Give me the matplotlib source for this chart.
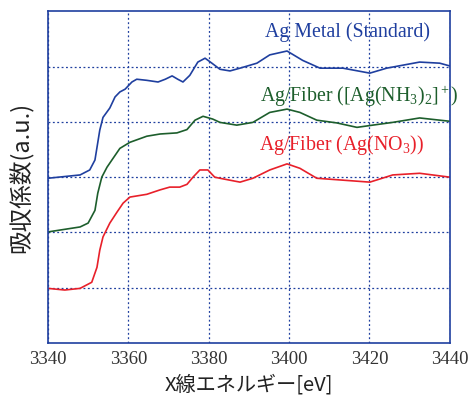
import matplotlib
matplotlib.use("Agg")
from matplotlib import pyplot as plt

# Ag K-edge XANES spectra (offset vertically)
metal_e = [3340, 3348.0, 3350.4, 3351.7, 3352.9, 3353.7, 3355.4, 3356.7, 3357.9, 3359.2,
           3360.9, 3362.1, 3364.6, 3367.4, 3369.2, 3370.9, 3372.3, 3373.6, 3375.3,
           3377.3, 3379.1, 3380.8, 3382.8, 3385.3, 3387.8, 3392.0, 3395.2, 3399.5,
           3403.4, 3407.7, 3413.4, 3420.1, 3424.3, 3432.5, 3437.5, 3440]
metal_mu = [2.98, 3.04, 3.13, 3.31, 3.85, 4.08, 4.25, 4.45, 4.54, 4.59,
            4.72, 4.77, 4.75, 4.72, 4.77, 4.83, 4.77, 4.72, 4.84,
            5.08, 5.15, 5.06, 4.95, 4.92, 4.97, 5.06, 5.21, 5.28,
            5.11, 4.97, 4.97, 4.88, 4.97, 5.08, 5.06, 5.01]

nh3_e = [3340, 3348, 3350, 3351.7, 3352.4, 3353.4, 3354.7, 3356.2, 3357.9, 3360.4,
         3364.6, 3367.9, 3372.1, 3374.6, 3376.6, 3378.6, 3381.0, 3382.8, 3387.0,
         3391.0, 3395.2, 3399.5, 3402.7, 3406.9, 3411.9, 3416.9, 3420.8, 3425.8,
         3432.5, 3440]
nh3_mu = [2.01, 2.10, 2.17, 2.40, 2.71, 3.00, 3.18, 3.34, 3.52, 3.63,
          3.74, 3.78, 3.80, 3.86, 4.03, 4.10, 4.05, 3.99, 3.94,
          3.99, 4.17, 4.23, 4.17, 4.03, 3.98, 3.90, 3.94, 3.99,
          4.07, 4.01]

no3_e = [3340, 3344.2, 3348, 3350.9, 3352.2, 3352.9, 3353.7, 3355.4, 3357.2, 3358.7,
         3360.4, 3364.6, 3367.9, 3370.3, 3372.8, 3374.6, 3376.1, 3377.8, 3379.8,
         3381.5, 3382.8, 3387.8, 3391.0, 3395.2, 3399.5, 3402.7, 3406.9, 3412.6,
         3420.1, 3425.8, 3432.5, 3440]
no3_mu = [0.99, 0.96, 0.99, 1.10, 1.37, 1.68, 1.92, 2.17, 2.37, 2.53,
          2.64, 2.69, 2.77, 2.82, 2.82, 2.87, 3.00, 3.13, 3.13,
          3.00, 2.98, 2.91, 2.98, 3.13, 3.24, 3.16, 2.98, 2.95,
          2.91, 3.04, 3.07, 3.00]

x_ticks = [3340, 3360, 3380, 3400, 3420, 3440]

BLUE = "#1f3f9f"
GREEN = "#1d5e2c"
RED = "#e8202a"
serif = "Liberation Serif"

plt.rcParams["mathtext.fontset"] = "custom"
plt.rcParams["mathtext.rm"] = serif
plt.rcParams["mathtext.it"] = serif

fig = plt.figure(figsize=(4.7, 3.99), dpi=100)
ax = fig.add_axes([0.102, 0.140, 0.855, 0.832])

for e, mu, c in [(metal_e, metal_mu, BLUE), (nh3_e, nh3_mu, GREEN), (no3_e, no3_mu, RED)]:
    ax.plot(e, mu, color=c, lw=1.2, solid_joinstyle="round")

ax.set_xlim(3340, 3440)
ax.set_ylim(0, 6)
ax.set_xticks(x_ticks)
ax.set_yticks([1, 2, 3, 4, 5])
ax.set_yticklabels([])
ax.tick_params(length=0, pad=6, labelsize=13.5, labelcolor="#333333")
for lab in ax.get_xticklabels():
    lab.set_family(serif)
ax.grid(True, color=BLUE, ls=(0, (1.5, 2)), lw=0.9)
for s in ax.spines.values():
    s.set_color(BLUE)
    s.set_linewidth(1.2)

ax.text(3414.6, 5.62, "Ag Metal (Standard)", color=BLUE, fontsize=14.3,
        family=serif, ha="center", va="center")
ax.text(3417.4, 4.45, r"Ag/Fiber ([Ag(NH$_3$)$_2$]$^+$)", color=GREEN, fontsize=14.3,
        family=serif, ha="center", va="center")
ax.text(3413.0, 3.58, r"Ag/Fiber (Ag(NO$_3$))", color=RED, fontsize=14.3,
        family=serif, ha="center", va="center")

cjk = ["Noto Sans CJK JP", "DejaVu Sans"]
ax.set_xlabel("X線エネルギー[eV]", family=cjk, fontsize=14.5, color="#222222", labelpad=4)
ax.set_ylabel("吸収係数(a.u.)", family=cjk, fontsize=17, color="#222222", labelpad=4)

plt.savefig("out.png", dpi=100)
